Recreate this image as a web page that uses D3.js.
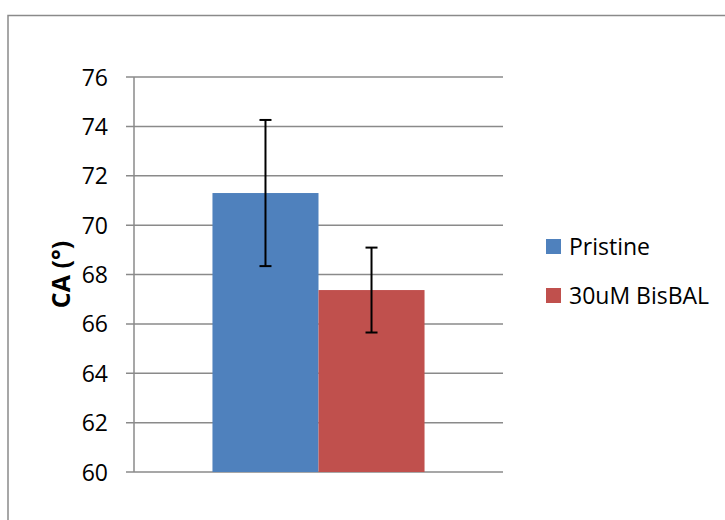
<!DOCTYPE html>
<html>
<head>
<meta charset="utf-8">
<script src="https://cdn.jsdelivr.net/npm/d3@7"></script>
<style>
  html, body { margin: 0; padding: 0; background: #fff; }
  svg { display: block; }
  text { font-family: "Open Sans", "Noto Sans", sans-serif; fill: #000; }
</style>
</head>
<body>
<svg id="chart" width="725" height="520"></svg>
<script>
const categories = [""];
const seriesNames = ["Pristine", "30uM BisBAL"];
const seriesColors = ["#4F81BD", "#C0504D"];
const pristineValues = [71.30];
const bisbalValues = [67.37];
const pristineErrors = [2.96];
const bisbalErrors = [1.72];
const yTicks = [60, 62, 64, 66, 68, 70, 72, 74, 76];
const yTitle = "CA (°)";

const svg = d3.select("#chart");

// outer chart border (extends beyond the window on right and bottom)
svg.append("rect")
  .attr("x", 8).attr("y", 15.5)
  .attr("width", 760).attr("height", 560)
  .attr("fill", "none").attr("stroke", "#8a8a8a").attr("stroke-width", 1.5);

const plot = { left: 134, right: 503, top: 77, bottom: 472 };

const y = d3.scaleLinear().domain([60, 76]).range([plot.bottom, plot.top]);
const x0 = d3.scaleBand().domain(categories).range([plot.left, plot.right])
  .paddingInner(0).paddingOuter(0.37);
const x1 = d3.scaleBand().domain(seriesNames).range([0, x0.bandwidth()]).padding(0);

// gridlines
svg.append("g").selectAll("line").data(yTicks).join("line")
  .attr("x1", plot.left - 8).attr("x2", plot.right)
  .attr("y1", d => y(d)).attr("y2", d => y(d))
  .attr("stroke", "#8a8a8a").attr("stroke-width", 1.5);

// y axis line
svg.append("line")
  .attr("x1", plot.left).attr("x2", plot.left)
  .attr("y1", plot.top).attr("y2", plot.bottom)
  .attr("stroke", "#8a8a8a").attr("stroke-width", 1.5);

// tick labels via d3 axis
const yAxis = d3.axisLeft(y).tickValues(yTicks).tickFormat(d3.format("d")).tickSize(0).tickPadding(0);
const ag = svg.append("g").attr("transform", `translate(${plot.left - 26},0)`).call(yAxis);
ag.select(".domain").remove();
ag.selectAll("text").style("font-size", "23px").attr("dy", "0.35em")
  .style("font-family", "'Open Sans', sans-serif").attr("fill", "#000");

// y title
svg.append("text")
  .attr("transform", `translate(70,${(plot.top + plot.bottom) / 2}) rotate(-90)`)
  .attr("text-anchor", "middle")
  .style("font-size", "25px").style("font-weight", "bold")
  .text(yTitle);

// bars
const rows = categories.map((c, i) => ({
  cat: c,
  vals: [
    { s: seriesNames[0], v: pristineValues[i], e: pristineErrors[i], c: seriesColors[0] },
    { s: seriesNames[1], v: bisbalValues[i], e: bisbalErrors[i], c: seriesColors[1] }
  ]
}));

const groups = svg.append("g").selectAll("g").data(rows).join("g")
  .attr("transform", d => `translate(${x0(d.cat)},0)`);

groups.selectAll("rect").data(d => d.vals).join("rect")
  .attr("x", d => x1(d.s)).attr("width", x1.bandwidth())
  .attr("y", d => y(d.v)).attr("height", d => y(60) - y(d.v))
  .attr("fill", d => d.c);

// error bars
const eb = groups.selectAll("g.err").data(d => d.vals).join("g").attr("class", "err");
eb.append("line")
  .attr("x1", d => x1(d.s) + x1.bandwidth() / 2).attr("x2", d => x1(d.s) + x1.bandwidth() / 2)
  .attr("y1", d => y(d.v + d.e)).attr("y2", d => y(d.v - d.e))
  .attr("stroke", "#000").attr("stroke-width", 2);
[1, -1].forEach(sign => {
  eb.append("line")
    .attr("x1", d => x1(d.s) + x1.bandwidth() / 2 - 6).attr("x2", d => x1(d.s) + x1.bandwidth() / 2 + 6)
    .attr("y1", d => y(d.v + sign * d.e)).attr("y2", d => y(d.v + sign * d.e))
    .attr("stroke", "#000").attr("stroke-width", 2);
});

// legend
const legend = svg.append("g").selectAll("g").data(seriesNames).join("g")
  .attr("transform", (d, i) => `translate(546,${246.5 + i * 49})`);
legend.append("rect").attr("x", 0).attr("y", -7.5).attr("width", 15).attr("height", 15)
  .attr("fill", (d, i) => seriesColors[i]);
legend.append("text").attr("x", 23).attr("dy", "0.35em")
  .style("font-size", "23px").text(d => d);
</script>
</body>
</html>
